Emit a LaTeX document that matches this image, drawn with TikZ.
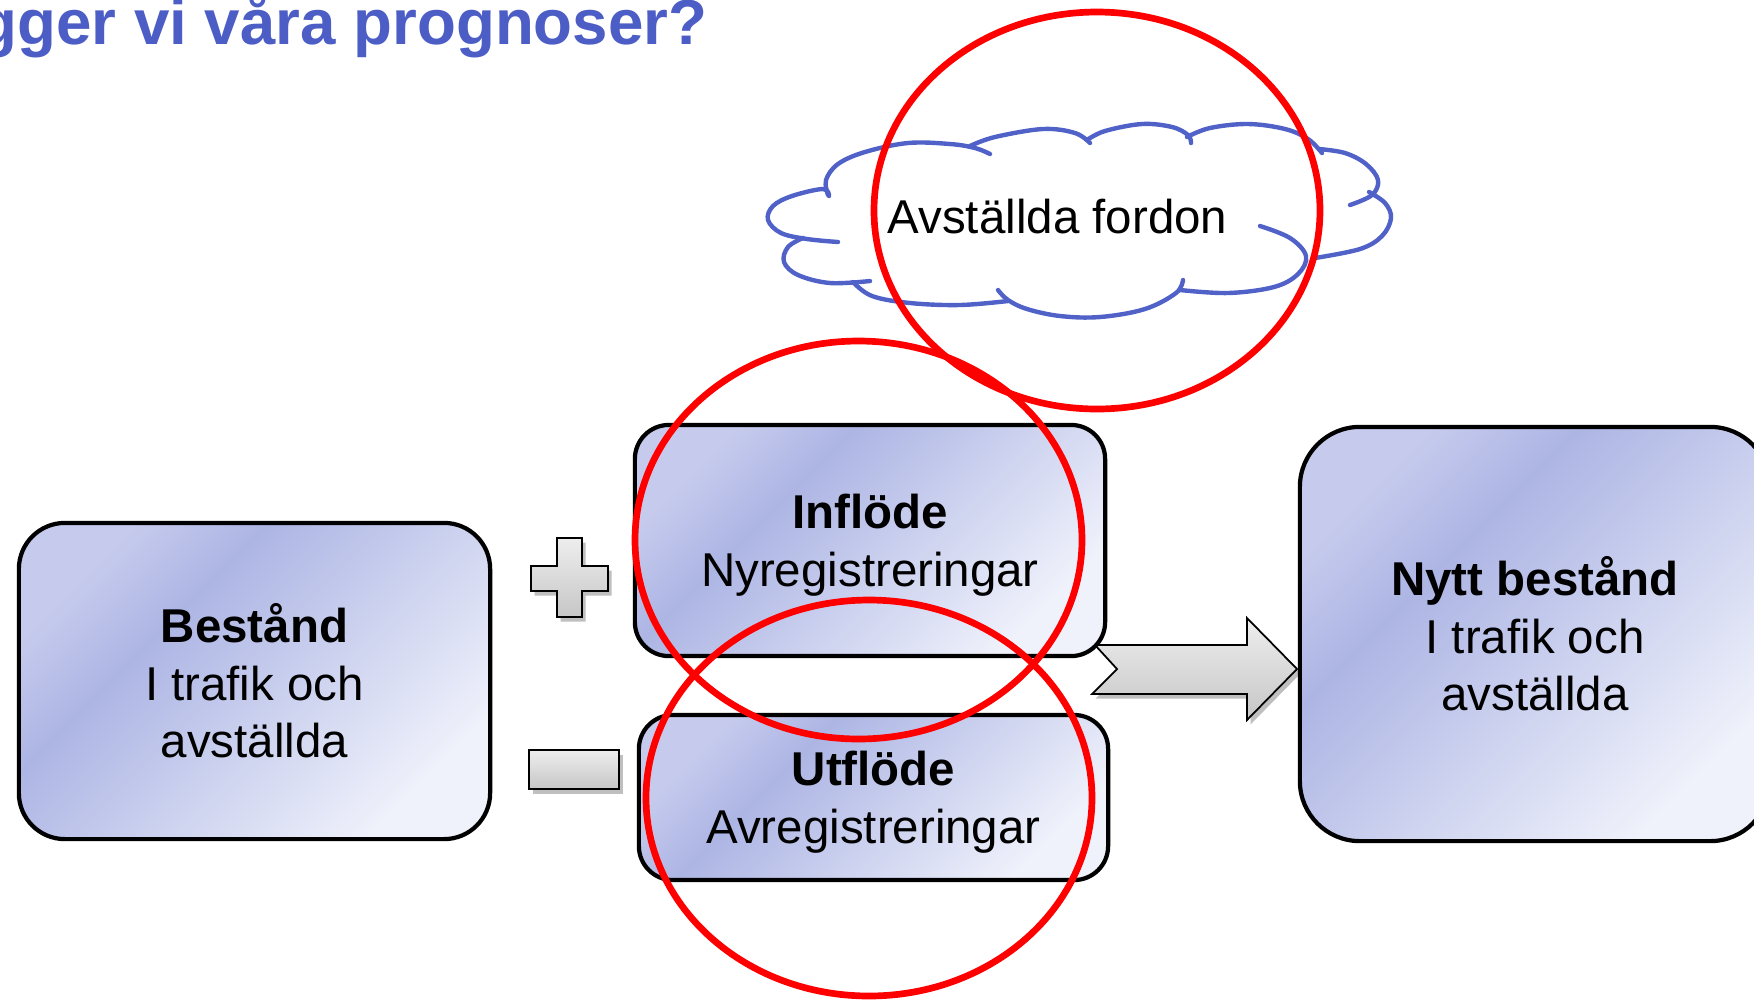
\documentclass[tikz,border=0pt]{standalone}
\usepackage{fontspec}
\setmainfont{Liberation Sans}
\usetikzlibrary{shadows}
\definecolor{titleblue}{RGB}{76,93,198}
\definecolor{cloudblue}{RGB}{80,97,200}
\definecolor{gA}{RGB}{198,203,237}
\definecolor{gB}{RGB}{173,181,228}
\definecolor{gC}{RGB}{240,242,251}
\definecolor{symtop}{RGB}{238,238,238}
\definecolor{symbot}{RGB}{198,198,198}
\pgfdeclarehorizontalshading{boxshade}{100bp}{color(0bp)=(gA); color(25bp)=(gA); color(37bp)=(gB); color(75bp)=(gC); color(100bp)=(gC)}
\tikzset{
  flowbox/.style={draw=black, line width=1.2pt, rounded corners=#1, shading=boxshade, shading angle=-45,
    align=center, inner sep=0pt, text=black, font=\fontsize{13.5}{16.4}\selectfont},
  symbolshape/.style={draw=black, line width=0.6pt, top color=symtop, bottom color=symbot,
    drop shadow={shadow xshift=0.35mm, shadow yshift=-0.45mm, opacity=0.25, fill=black}},
  bigarrow/.style={draw=black, line width=0.5pt, top color=symtop, bottom color=symbot,
    drop shadow={shadow xshift=0.35mm, shadow yshift=-0.45mm, opacity=0.25, fill=black}},
  cloudline/.style={draw=cloudblue, line width=1.25pt, line cap=round},
  redring/.style={draw=red, line width=1.9pt},
  bump/.style={smooth, tension=0.6}
}
\begin{document}
\begin{tikzpicture}[x=0.01cm, y=-0.01cm]
\useasboundingbox (0,0) rectangle (1754,1002);
\fill[white] (0,0) rectangle (1754,1002);

% title (cut off at the left edge, as in the reference)
\node[anchor=base east, inner sep=0pt, text=titleblue, font=\fontsize{18.1}{21}\selectfont\bfseries] (title) at (708,44) {gger vi våra prognoser?};

% big arrow (drawn before the boxes)
\path[bigarrow] (1095,645) -- (1247,645) -- (1247,618) -- (1297,669) -- (1247,720) -- (1247,694) -- (1092,694) -- (1117,669) -- cycle;

% plus and minus
\path[symbolshape] (557,538) -- (582,538) -- (582,566) -- (608,566) -- (608,591) -- (582,591) -- (582,617) -- (557,617) -- (557,591) -- (531,591) -- (531,566) -- (557,566) -- cycle;
\path[symbolshape] (529,750) rectangle (619,789);

% boxes
\node[flowbox=0.46cm, minimum width=4.71cm, minimum height=3.16cm] (bestand) at (254.5,681) {\textbf{Bestånd}\\I trafik och\\avställda};
\node[flowbox=0.34cm, minimum width=4.70cm, minimum height=2.31cm, text depth=0pt] (inflode) at (870,540.5) {\textbf{Inflöde}\\Nyregistreringar};
\node[flowbox=0.34cm, minimum width=4.69cm, minimum height=1.65cm, text depth=0pt] (utflode) at (873.5,797.5) {\textbf{Utflöde}\\Avregistreringar};
\node[flowbox=0.60cm, minimum width=4.70cm, minimum height=4.14cm] (nytt) at (1535,634) {\textbf{Nytt bestånd}\\I trafik och\\avställda};

% cloud
\draw[cloudline] plot[bump] coordinates {(828,195) (826,180) (838,164) (865,152) (908,143) (950,144) (975,148) (990,154)};
\draw[cloudline] plot[bump] coordinates {(970,146) (995,137) (1043,129) (1075,133) (1090,143)};
\draw[cloudline] plot[bump] coordinates {(1087,140) (1105,131) (1142,124) (1172,127) (1188,135) (1191,143)};
\draw[cloudline] plot[bump] coordinates {(1187,137) (1210,128) (1248,124) (1285,129) (1308,139) (1322,153)};
\draw[cloudline] plot[bump] coordinates {(1319,149) (1345,153) (1366,164) (1378,180) (1372,195) (1350,205)};
\draw[cloudline] plot[bump] coordinates {(1369,192) (1385,203) (1391,218) (1382,236) (1360,249) (1315,258)};
\draw[cloudline] plot[bump] coordinates {(1260,226) (1290,238) (1306,256) (1298,274) (1274,287) (1228,293) (1180,290)};
\draw[cloudline] plot[bump] coordinates {(1183,280) (1176,293) (1145,309) (1100,317) (1060,316) (1027,309) (1008,300) (998,290)};
\draw[cloudline] plot[bump] coordinates {(1008,301) (960,305) (910,303) (872,296) (853,282)};
\draw[cloudline] plot[bump] coordinates {(870,281) (830,283) (798,275) (784,262) (788,247) (803,238)};
\draw[cloudline] plot[bump] coordinates {(838,242) (807,239) (781,233) (768,220) (773,206) (792,196) (823,189) (829,196)};
\node[anchor=base west, inner sep=0pt, font=\fontsize{13.5}{16.4}\selectfont] (cloudtext) at (887,233) {Avställda fordon};

% red rings
\draw[redring] (1097,210.5) ellipse [x radius=223, y radius=198.5];
\draw[redring] (858.5,540) ellipse [x radius=223.5, y radius=199];
\draw[redring] (869,798) ellipse [x radius=223, y radius=198];
\end{tikzpicture}
\end{document}
